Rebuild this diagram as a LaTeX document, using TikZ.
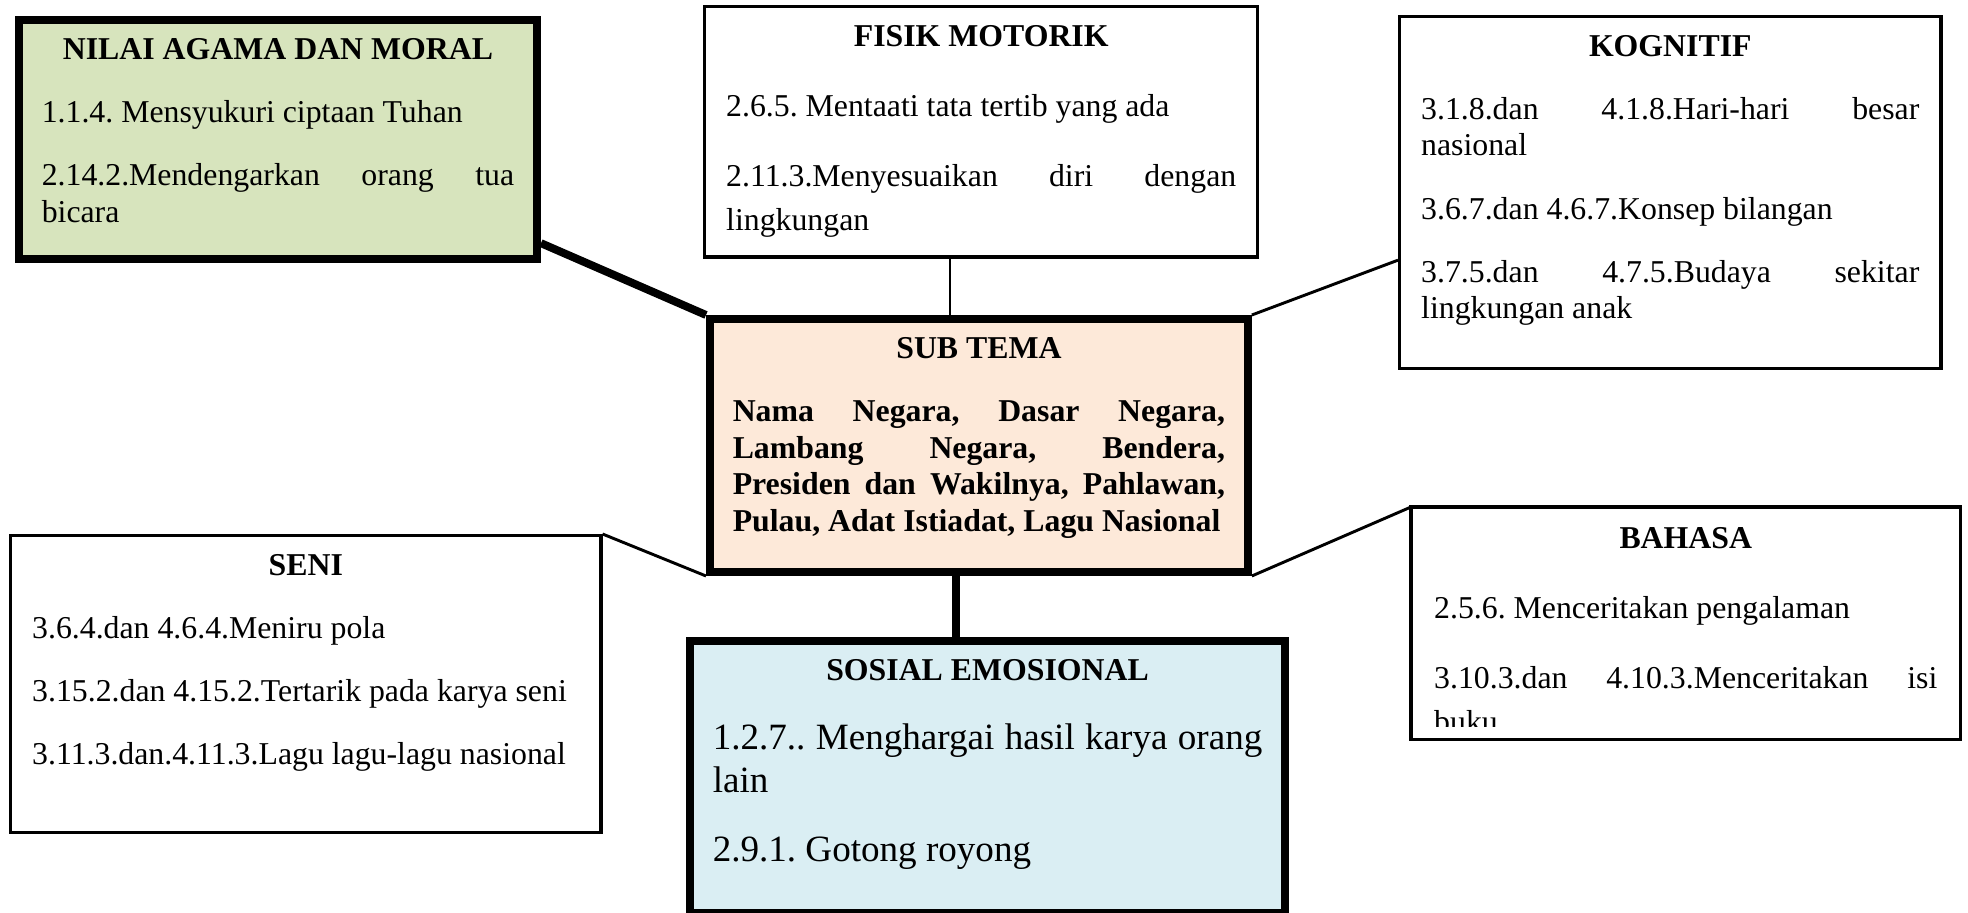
\documentclass[tikz,border=0pt]{standalone}
\usepackage{fontspec}
\setmainfont{Liberation Serif}
\usetikzlibrary{backgrounds,calc}

\definecolor{hijau}{HTML}{D7E4BD}
\definecolor{peach}{HTML}{FDE9D9}
\definecolor{biru}{HTML}{DAEEF3}

%Box content: width, height, text
\newcommand{\isikotak}[3]{%
  \begin{minipage}[c][#2][t]{#1}%
  \frenchspacing\setlength{\parskip}{10pt}\hyphenpenalty=10000 \exhyphenpenalty=10000
  \tolerance=10000 \spaceskip=\fontdimen2\font plus \fontdimen3\font\relax
  #3%
  \end{minipage}}
\newcommand{\judul}[1]{{\centering\bfseries #1\par}}

\begin{document}
\begin{tikzpicture}[x=0.3774pt,y=-0.3774pt,
    kotak/.style={draw, line width=1.3pt, anchor=north west,
                  inner xsep=8.1pt, inner ysep=7pt,
                  font=\fontsize{12}{13.8}\selectfont},
    tebal/.style={kotak, line width=3pt, inner xsep=8.6pt},
    garis/.style={line width=1.1pt},
    garistebal/.style={line width=3pt}]
    \useasboundingbox (0,0) rectangle (1968,913);

    %Top row
    \node[tebal, fill=hijau] (nilai) at (15,16) {\isikotak{178.3pt}{76.2pt}{%
        \judul{NILAI AGAMA DAN MORAL}
        1.1.4. Mensyukuri ciptaan Tuhan\par
        2.14.2.Mendengarkan orang tua bicara}};
    \node[kotak, font=\fontsize{12}{16.5}\selectfont] (fisik) at (703,5) {\isikotak{192.5pt}{80.4pt}{%
        \judul{FISIK MOTORIK}
        2.6.5. Mentaati tata tertib yang ada\par
        2.11.3.Menyesuaikan diri dengan lingkungan}};
    \node[kotak] (kognitif) at (1398,15) {\isikotak{188pt}{118.8pt}{%
        \judul{KOGNITIF}
        3.1.8.dan 4.1.8.Hari-hari besar nasional\par
        3.6.7.dan 4.6.7.Konsep bilangan\par
        3.7.5.dan 4.7.5.Budaya sekitar lingkungan anak}};

    %Centre box
    \node[tebal, fill=peach] (subtema) at (706,315) {\isikotak{185.8pt}{81.5pt}{%
        \judul{SUB TEMA}
        \bfseries Nama Negara, Dasar Negara,\linebreak
        Lambang Negara, Bendera,\linebreak
        Presiden dan Wakilnya, Pahlawan,\linebreak
        Pulau, Adat Istiadat, Lagu Nasional}};

    %Bottom row
    \node[kotak] (seni) at (9,534) {\isikotak{206.5pt}{98.1pt}{%
        \judul{SENI}
        3.6.4.dan 4.6.4.Meniru pola\par
        3.15.2.dan 4.15.2.Tertarik pada karya seni\par
        3.11.3.dan.4.11.3.Lagu lagu-lagu nasional}};
    \node[tebal, fill=biru] (sosial) at (686,637) {\isikotak{207.4pt}{88.7pt}{%
        \judul{SOSIAL EMOSIONAL}
        \fontsize{14}{16.1}\selectfont
        \spaceskip=\fontdimen2\font plus \fontdimen3\font\relax
        1.2.7.. Menghargai hasil karya orang lain\par
        2.9.1. Gotong royong}};
    \begin{scope}
        \clip (1400,500) rectangle (1968,727);   %text runs out of the box
        \node[kotak, draw=none, font=\fontsize{12}{16.5}\selectfont] (bahasa) at (1411,507) {\isikotak{189.9pt}{72.5pt}{%
            \judul{BAHASA}
            2.5.6. Menceritakan pengalaman\par
            3.10.3.dan 4.10.3.Menceritakan isi buku}};
    \end{scope}
    \draw[line width=1.3pt] (bahasa.north west) rectangle (bahasa.south east);

    %Connectors
    \coordinate (xatas) at (950,0);
    \coordinate (xbawah) at (956,0);
    \begin{scope}[on background layer]
        \draw[garistebal] ($(nilai.north east)!0.92!(nilai.south east)$) -- (subtema.north west);
        \draw[garis] (fisik.south -| xatas) -- (subtema.north -| xatas);
        \draw[garis] ($(kognitif.north west)!0.69!(kognitif.south west)$) -- (subtema.north east);
        \draw[garis] (seni.north east) -- (subtema.south west);
        \draw[garis] (bahasa.north west) -- (subtema.south east);
        \draw[garistebal] (subtema.south -| xbawah) -- (sosial.north -| xbawah);
    \end{scope}
\end{tikzpicture}
\end{document}
